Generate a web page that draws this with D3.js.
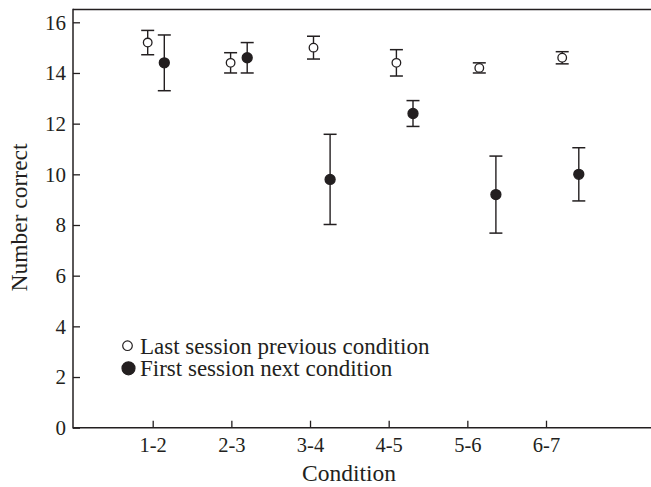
<!DOCTYPE html>
<html>
<head>
<meta charset="utf-8">
<script src="https://cdn.jsdelivr.net/npm/d3@7"></script>
<style>
  body { margin: 0; background: #fff; }
  text { font-family: "Liberation Serif", "DejaVu Serif", serif; fill: #231f20; }
</style>
</head>
<body>
<svg id="chart" width="651" height="487"></svg>
<script>
// condition transitions
const conditions = ["1-2", "2-3", "3-4", "4-5", "5-6", "6-7"];
// last session of previous condition (open circles)
const lastMean = [15.2, 14.4, 15.0, 14.4, 14.2, 14.6];
const lastErr  = [0.48, 0.4, 0.45, 0.52, 0.2, 0.24];
// first session of next condition (filled circles)
const firstMean = [14.4, 14.6, 9.8, 12.4, 9.2, 10.0];
const firstErr  = [1.1, 0.6, 1.78, 0.51, 1.52, 1.05];
const yTicks = [0, 2, 4, 6, 8, 10, 12, 14, 16];
const legendLabels = ["Last session previous condition", "First session next condition"];

const ink = "#231f20";
const svg = d3.select("#chart");

const margin = { left: 73, top: 9.5, bottom: 427.7 };

// y scale
let y = d3.scaleLinear().domain([0, 16]).range([margin.bottom, 22.3]);

// tick positions of the category axis
let xTick = d3.scalePoint().domain(conditions).range([152.7, 546]);
// data positions (slightly shifted relative to the ticks, as in the original)
let xData = d3.scalePoint().domain(conditions).range([156, 570.5]);
const pairOffset = 8.3;

//Rahmen: top, left, bottom
svg.append("line")
    .attr("x1", margin.left).attr("y1", margin.top)
    .attr("x2", 651).attr("y2", margin.top)
    .attr("stroke", ink).attr("stroke-width", 1.5);

// y axis with inward ticks
let yAxis = d3.axisRight(y).tickValues(yTicks).tickSize(7).tickFormat(d3.format("d"));
let yAxis_graph = svg.append("g")
    .attr("transform", "translate(" + margin.left + ",0)")
    .call(yAxis);
yAxis_graph.select(".domain").remove();
yAxis_graph.selectAll(".tick line").attr("stroke", ink).attr("stroke-width", 1.3);
yAxis_graph.selectAll(".tick text")
    .attr("x", -7).attr("text-anchor", "end")
    .style("font-size", "21px");
svg.append("line")
    .attr("x1", margin.left).attr("y1", margin.top - 0.75)
    .attr("x2", margin.left).attr("y2", margin.bottom + 0.75)
    .attr("stroke", ink).attr("stroke-width", 1.5);

// x axis with inward ticks
let xAxis = d3.axisTop(xTick).tickSize(7);
let xAxis_graph = svg.append("g")
    .attr("transform", "translate(0," + margin.bottom + ")")
    .call(xAxis);
xAxis_graph.select(".domain").remove();
xAxis_graph.selectAll(".tick line").attr("stroke", ink).attr("stroke-width", 1.3);
xAxis_graph.selectAll(".tick text")
    .attr("y", 24).attr("dy", 0)
    .style("font-size", "20.5px");
svg.append("line")
    .attr("x1", margin.left).attr("y1", margin.bottom)
    .attr("x2", 651).attr("y2", margin.bottom)
    .attr("stroke", ink).attr("stroke-width", 1.5);

// axis titles
svg.append("text")
    .attr("x", 349).attr("y", 481)
    .attr("text-anchor", "middle")
    .style("font-size", "23.5px")
    .text("Condition");
svg.append("text")
    .attr("transform", "translate(27,217.5) rotate(-90)")
    .attr("text-anchor", "middle")
    .style("font-size", "23.5px")
    .text("Number correct");

// series drawing
const series = [
    { mean: lastMean, err: lastErr, dx: -pairOffset, filled: false, r: 4.3 },
    { mean: firstMean, err: firstErr, dx: pairOffset, filled: true, r: 5 }
];
series.forEach(s => {
    let g = svg.append("g");
    let rows = conditions.map((c, i) => ({ c: c, m: s.mean[i], e: s.err[i] }));
    let cx = d => xData(d.c) + s.dx;
    // error bars
    g.selectAll("line.bar").data(rows).join("line")
        .attr("class", "bar")
        .attr("x1", cx).attr("x2", cx)
        .attr("y1", d => y(d.m + d.e)).attr("y2", d => y(d.m - d.e))
        .attr("stroke", ink).attr("stroke-width", 1.4);
    [1, -1].forEach(sign => {
        g.selectAll("line.cap" + sign).data(rows).join("line")
            .attr("x1", d => cx(d) - 6.5).attr("x2", d => cx(d) + 6.5)
            .attr("y1", d => y(d.m + sign * d.e)).attr("y2", d => y(d.m + sign * d.e))
            .attr("stroke", ink).attr("stroke-width", 1.5);
    });
    g.selectAll("circle").data(rows).join("circle")
        .attr("cx", cx).attr("cy", d => y(d.m))
        .attr("r", s.r)
        .attr("fill", s.filled ? ink : "#fff")
        .attr("stroke", ink).attr("stroke-width", 1.3);
});

// legend
let legend = svg.append("g");
legendLabels.forEach((label, i) => {
    legend.append("circle")
        .attr("cx", series[i].filled ? 128.5 : 127.5)
        .attr("cy", series[i].filled ? 368.3 : 345.7)
        .attr("r", series[i].filled ? 6.5 : 4.8)
        .attr("fill", series[i].filled ? ink : "#fff")
        .attr("stroke", ink).attr("stroke-width", 1.2);
    legend.append("text")
        .attr("x", 140).attr("y", 354 + i * 21.5)
        .style("font-size", "23px")
        .text(label);
});
</script>
</body>
</html>
